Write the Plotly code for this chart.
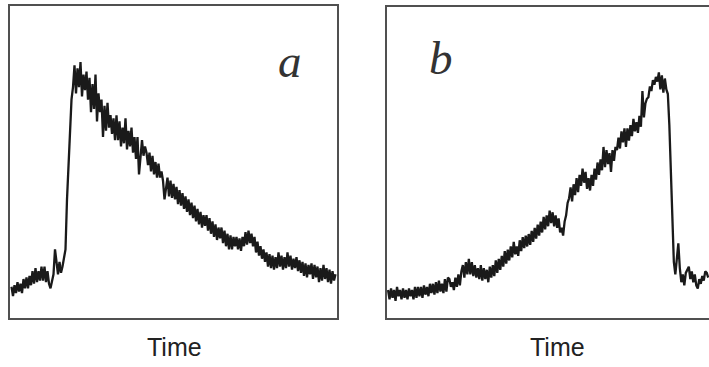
import plotly.graph_objects as go

W, H = 709, 367

# Panel a signal (arbitrary units, 0-100), sampled uniformly in time
signal_a = [
    10, 7, 10.5, 8, 11.5, 8.5, 11, 8, 12.5, 9.5,
    13, 9.5, 13.5, 10.5, 15, 11, 16, 11.5, 15, 12,
    16.5, 12, 16.5, 11.5, 15, 11, 9.5, 12, 14, 22,
    17.5, 14, 18, 14.5, 16.5, 19, 22, 38, 50, 60,
    70, 74, 81, 72, 80, 74, 82, 71, 78, 73,
    79, 70, 77, 66, 75, 67, 78, 63, 72, 66,
    70, 58, 68, 60, 69, 61, 65, 59, 64, 57,
    65, 57, 63, 55, 61, 56, 64, 54, 60, 55,
    61, 53, 58, 51, 58, 46, 51, 57, 52, 55,
    53, 49, 53, 47, 52, 46, 50, 45, 49.5, 45,
    47, 44, 38, 42, 45, 39, 44, 38.5, 43, 38,
    42, 36.5, 41, 36, 40, 35, 39, 34, 38, 33,
    37, 32, 36, 31, 35, 30, 34, 29, 33, 29.5,
    33, 28, 32, 27, 31, 26, 30, 25, 29, 25.5,
    29, 24, 28, 23, 27, 22, 26.5, 22, 26, 23,
    26, 22, 25.5, 21.5, 26, 23, 27.5, 23.5, 28, 24,
    27, 23, 26, 21, 24.5, 20, 23, 19, 22, 18,
    21, 16.5, 20.5, 16, 20, 15.5, 19.5, 16, 21, 16.5,
    20, 15.5, 19.5, 16, 21, 16.5, 20, 15.5, 19, 16,
    19.5, 15, 18.5, 14.5, 18, 13.5, 17.5, 13, 17, 14,
    17.5, 12.5, 17, 13, 16.5, 11.5, 16, 12, 17, 12.5,
    16, 11.5, 15.5, 11, 15, 12, 14,
]

# Panel b signal
signal_b = [
    9, 6, 9.5, 6.5, 9, 5.5, 10, 7, 9, 6,
    9.5, 6.5, 9, 6, 9.5, 7, 9, 6, 10, 6.5,
    10, 7, 10, 6.5, 10.5, 7.5, 10, 7, 11, 8,
    11, 7.5, 11.5, 8, 12, 8.5, 11, 8, 12.5, 8.5,
    13, 12.5, 10, 11.5, 9, 13, 10, 14, 10.5, 15,
    17, 13, 18, 14, 19, 14, 18, 13.5, 17, 13,
    16, 12.5, 17, 12, 16, 12.5, 15.5, 11.5, 16.5, 13,
    17, 13.5, 18.5, 14.5, 19, 15.5, 20, 16.5, 21.5, 17.5,
    22, 18.5, 23, 19.5, 24.5, 20.5, 23, 20, 25, 21.5,
    26, 22.5, 26.5, 23, 27, 23.5, 28, 24.5, 29, 25.5,
    30, 26.5, 31, 27.5, 32.5, 28.5, 33, 29.5, 34.5, 30.5,
    34, 29.5, 33, 29, 32, 27.5, 29, 26.5, 31, 33,
    37, 38.5, 42, 37.5, 43, 39.5, 45, 40.5, 46, 42.5,
    48, 43.5, 47, 41.5, 45, 41, 46, 42.5, 48, 44.5,
    50, 46, 51, 47.5, 55, 48.5, 54, 49.5, 53, 47,
    54, 50.5, 55, 54, 58, 54.5, 60, 56.5, 61, 55,
    61, 57, 62, 58.5, 64, 60, 63, 59.5, 65, 61.5,
    73, 64.5, 69, 70.5, 71, 74.5, 73, 76.5, 75, 77.5,
    76, 79, 73.5, 78, 72.5, 77, 73.5, 72, 62, 45,
    28, 18, 14, 20, 24, 16, 11.5, 14, 10.5, 14.5,
    15.5, 16.5, 12.5, 15, 11.5, 14, 10.5, 9.5, 12.5, 11,
    13.5, 12, 15, 14.5, 13,
]

time_a = list(range(len(signal_a)))
time_b = list(range(len(signal_b)))

panel_labels = ["a", "b"]
axis_title = "Time"

line_color = "#1a1a1a"
frame_color = "#505050"

fig = go.Figure()
fig.add_trace(go.Scatter(x=time_a, y=signal_a, mode="lines",
                         line=dict(color=line_color, width=2.3),
                         xaxis="x", yaxis="y", showlegend=False))
fig.add_trace(go.Scatter(x=time_b, y=signal_b, mode="lines",
                         line=dict(color=line_color, width=2.3),
                         xaxis="x2", yaxis="y2", showlegend=False))

def px(x):
    return x / W

def py(y):
    return 1 - y / H

common_x = dict(showgrid=False, zeroline=False, showticklabels=False, ticks="",
                showline=True, linecolor=frame_color, linewidth=1.5, mirror=True)
common_y = dict(showgrid=False, zeroline=False, showticklabels=False, ticks="",
                showline=True, linecolor=frame_color, linewidth=1.5, range=[0, 100])

serif = "Liberation Serif, DejaVu Serif, serif"
sans = "Liberation Sans Narrow, Arial Narrow, Liberation Sans, Arial, sans-serif"

fig.update_layout(
    width=W, height=H,
    margin=dict(l=0, r=0, t=0, b=0),
    paper_bgcolor="white", plot_bgcolor="white",
    xaxis=dict(common_x, domain=[px(10), px(337)], range=[-1, 217]),
    yaxis=dict(common_y, domain=[py(318), py(6)], mirror=True),
    xaxis2=dict(common_x, domain=[px(387), 1.0], range=[-0.7, 214.5], anchor="y2"),
    yaxis2=dict(common_y, domain=[py(318), py(7)], mirror=False, anchor="x2"),
    annotations=[
        dict(text="<i>%s</i>" % panel_labels[0], x=px(290), y=py(61), xref="paper", yref="paper",
             xanchor="center", yanchor="middle", showarrow=False,
             font=dict(family=serif, size=47, color="#333")),
        dict(text="<i>%s</i>" % panel_labels[1], x=px(441), y=py(58), xref="paper", yref="paper",
             xanchor="center", yanchor="middle", showarrow=False,
             font=dict(family=serif, size=47, color="#333")),
        dict(text=axis_title, x=px(174), y=py(347), xref="paper", yref="paper",
             xanchor="center", yanchor="middle", showarrow=False,
             font=dict(family=sans, size=25, color="#222")),
        dict(text=axis_title, x=px(557), y=py(347), xref="paper", yref="paper",
             xanchor="center", yanchor="middle", showarrow=False,
             font=dict(family=sans, size=25, color="#222")),
    ],
)

fig.write_html("out.html")
